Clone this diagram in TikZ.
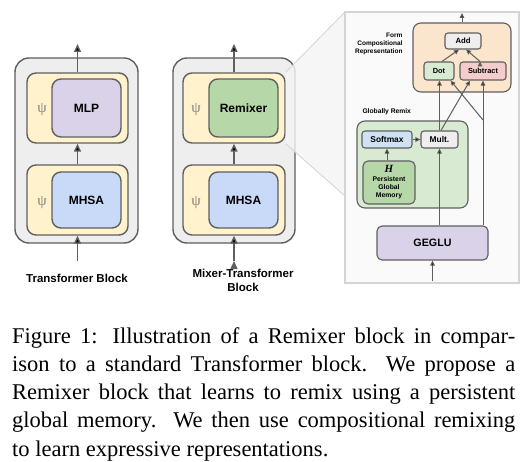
\documentclass[tikz,border=0pt]{standalone}
\usepackage{fontspec}
\setmainfont{Liberation Serif}
\setsansfont{Liberation Sans}
\usetikzlibrary{arrows.meta}

\definecolor{edgegray}{HTML}{5F5F5F}
\definecolor{blockgray}{HTML}{EEEEEE}
\definecolor{psiyellow}{HTML}{FFF2CC}
\definecolor{mlppurple}{HTML}{D9D2E9}
\definecolor{attnblue}{HTML}{C9DAF8}
\definecolor{remixgreen}{HTML}{B6D7A8}
\definecolor{compsalmon}{HTML}{FCE5CD}
\definecolor{dotgreen}{HTML}{D9EAD3}
\definecolor{subpink}{HTML}{F4CCCC}
\definecolor{softblue}{HTML}{CFE2F3}
\definecolor{panelgray}{HTML}{FAFAFA}
\definecolor{panelline}{HTML}{D4D4D4}

\begin{document}
\begin{tikzpicture}[x=1bp, y=-1bp,
        bigbox/.style={draw=edgegray, line width=1.4bp, rounded corners=#1bp, inner sep=0pt},
        smallbox/.style={draw=edgegray, line width=1.1bp, rounded corners=#1bp, inner sep=0pt},
        sz/.style 2 args={minimum width=#1bp, minimum height=#2bp},
        txt/.style 2 args={font=\sffamily\bfseries\fontsize{#1bp}{#2bp}\selectfont},
        psi/.style={text=gray, font=\rmfamily\fontsize{15bp}{15bp}\selectfont},
        bigarr/.style={draw=edgegray, line width=1.4bp, -{Triangle[length=8bp,width=7bp]}},
        arr/.style={draw=edgegray, line width=1bp, -{Triangle[length=5bp,width=4.5bp]}}]
        \useasboundingbox[fill=white] (0,0) rectangle (530,462);

        % Transformer block
        \node[bigbox=14, fill=blockgray, sz={123}{185}] at (76.5, 150.5)(tb){};
        \node[bigbox=9, fill=psiyellow, sz={101}{70}] at (77.5, 108)(tbtop){};
        \node[bigbox=9, fill=mlppurple, sz={69}{58}, txt={12}{14}] at (86.5, 108)(mlp){MLP};
        \node[psi] at (42, 110)(tbpsia){ψ};
        \node[bigbox=9, fill=psiyellow, sz={101}{70}] at (77.5, 200)(tbbot){};
        \node[bigbox=9, fill=attnblue, sz={69}{56}, txt={12}{14}] at (86.5, 200)(tbmhsa){MHSA};
        \node[psi] at (42, 203)(tbpsib){ψ};
        \coordinate (tbin) at (77.5, 261);
        \coordinate (tbout) at (77.5, 44);
        \node[txt={11.5}{14}] at (77, 278)(tblabel){Transformer Block};

        % Mixer-Transformer block
        \node[bigbox=14, fill=blockgray, sz={122}{185}] at (234, 150.5)(mx){};
        \node[bigbox=9, fill=psiyellow, sz={102}{70}] at (234, 108)(mxtop){};
        \node[bigbox=9, fill=remixgreen, sz={69}{58}, txt={12}{14}] at (243.5, 108)(remixer){Remixer};
        \node[psi] at (196, 110)(mxpsia){ψ};
        \node[bigbox=9, fill=psiyellow, sz={102}{70}] at (234, 200)(mxbot){};
        \node[bigbox=9, fill=attnblue, sz={69}{56}, txt={12}{14}] at (243.5, 200)(mxmhsa){MHSA};
        \node[psi] at (196, 203)(mxpsib){ψ};
        \coordinate (mxin) at (234, 261);
        \coordinate (mxout) at (234, 44);
        \node[txt={11.5}{14}, align=center] at (243, 280)(mxlabel){Mixer-Transformer\\Block};

        \path[bigarr]
        (tbin)edge(tbbot)
        (tbbot)edge(tbtop)
        (tbtop)edge(tbout)
        (mxin)edge(mxbot)
        (mxbot)edge(mxtop)
        (mxtop)edge(mxout)
        ;

        % zoom into the Remixer
        \coordinate (zoomtop) at (345, 12);
        \coordinate (zoomlow) at (345, 196);
        \fill[gray!9, fill opacity=0.8] (mxtop.north east) -- (zoomtop) -- (zoomlow) -- (mxtop.south east) -- cycle;
        \draw[panelline, line width=0.8bp] (mxtop.north east) -- (zoomtop) (mxtop.south east) -- (zoomlow);
        \node[draw=panelline, fill=panelgray, line width=1.2bp, inner sep=0pt, sz={174}{271}] at (432, 147.5)(panel){};

        % compositional part
        \node[smallbox=8, fill=compsalmon, sz={98}{69}] at (462, 57.5)(comp){};
        \node[txt={6.5}{8}, align=right, anchor=east] at (406, 44)(complabel){Form\\Compositional\\Representation};
        \node[smallbox=3, fill=blockgray, sz={36}{16}, txt={7.7}{9}] at (463, 41)(add){Add};
        \node[smallbox=3, fill=dotgreen, sz={30}{18}, txt={7.4}{9}] at (439, 71)(dot){Dot};
        \node[smallbox=3, fill=subpink, sz={46}{18}, txt={7.4}{9}] at (483, 71)(sub){Subtract};
        \coordinate (compout) at (462, 13);

        % global remix part
        \node[txt={6.7}{8}, anchor=west] at (359, 112)(remixlabel){Globally Remix};
        \node[smallbox=8, fill=dotgreen, sz={111}{87}] at (412.5, 164.5)(remix){};
        \node[smallbox=3, fill=softblue, sz={50}{17}, txt={8.4}{10}] at (387, 139.5)(soft){Softmax};
        \node[smallbox=3, fill=blockgray, sz={37}{17}, txt={8.4}{10}] at (439.5, 139.5)(mult){Mult.};
        \node[smallbox=5, fill=remixgreen, sz={52}{43}, txt={6.8}{8}, align=center] at (389, 182.5)(mem)
            {{\rmfamily\itshape\fontsize{11bp}{11bp}\selectfont H}\\[1bp]Persistent\\Global\\Memory};
        \node[smallbox=5, fill=mlppurple, sz={111}{34}, txt={10.7}{12}] at (432.5, 243)(geglu){GEGLU};
        \coordinate (ginp) at (432.5, 281);
        \coordinate (br) at (483, 120);

        \path[arr]
        (ginp)edge(geglu)
        (soft.south |- mem.north)edge(soft.south)
        (soft)edge(mult)
        (mult.south |- geglu.north)edge(mult.south)
        (mult.north)edge(mult.north |- dot.south)
        ([xshift=1.5bp]mult.north)edge([xshift=-13bp]sub.south)
        (sub.south |- geglu.north)edge(sub.south)
        (br)edge([xshift=-4bp]dot.south east)
        ([xshift=3bp]dot.north)edge([xshift=-4bp]add.south)
        ([xshift=-3bp]sub.north)edge([xshift=3bp]add.south)
        (comp)edge(compout)
        ;

        % caption
        \node[anchor=north west, inner sep=0pt, text width=503bp, align=justify,
            font=\rmfamily\fontsize{22.5bp}{28.3bp}\selectfont] at (12, 327)(caption)
            {Figure 1: Illustration of a Remixer block in compar-\linebreak
            ison to a standard Transformer block.  We propose a\linebreak
            Remixer block that learns to remix using a persistent\linebreak
            global memory.  We then use compositional remixing\linebreak
            to learn expressive representations.};
    \end{tikzpicture}
\end{document}
